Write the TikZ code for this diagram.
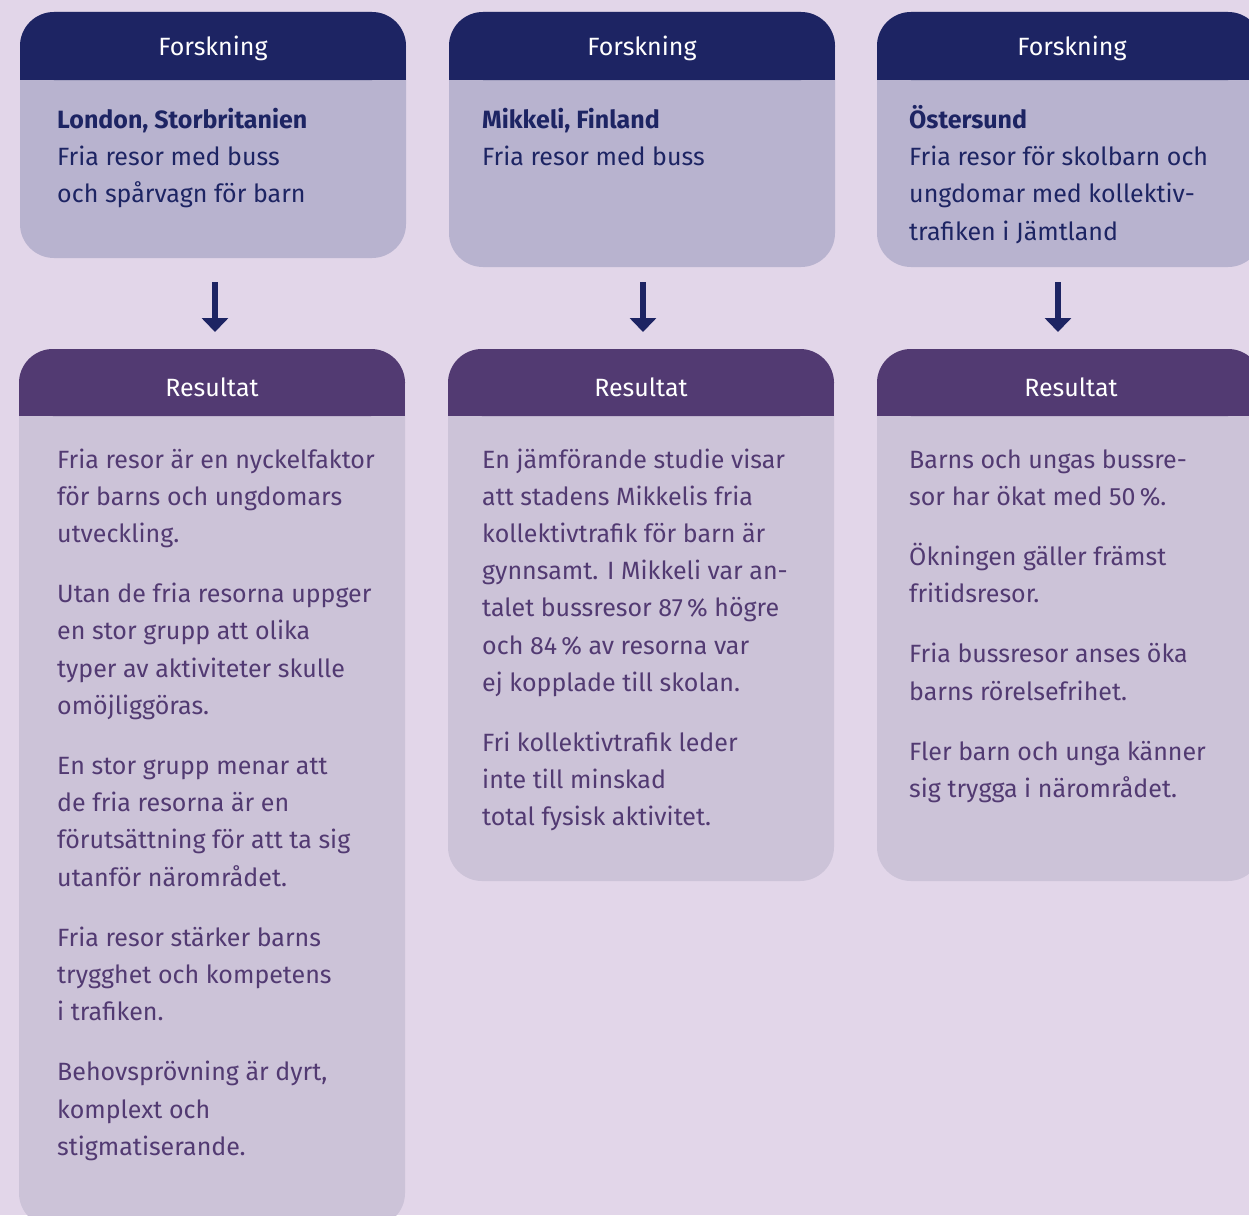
\documentclass[tikz,border=0pt]{standalone}
\usepackage{fontspec}
\setmainfont{Fira Sans}
\usetikzlibrary{arrows.meta}
\definecolor{bgc}{HTML}{E2D6E9}
\definecolor{navy}{HTML}{1D2463}
\definecolor{fbody}{HTML}{B8B3CF}
\definecolor{rhead}{HTML}{523A72}
\definecolor{rbody}{HTML}{CCC3D8}
\newcommand{\bodyfont}{\fontsize{25pt}{37.2pt}\selectfont}
\newcommand{\txtbox}[1]{\parbox[t]{370pt}{\raggedright\setlength{\parskip}{23pt}\bodyfont #1}}
\begin{document}
\begin{tikzpicture}[x=1pt,y=-1pt,
  headtxt/.style={anchor=base, text=white, font=\bodyfont, inner sep=0pt},
  bodytxt/.style={anchor=base west, inner sep=0pt, align=left},
  flowarrow/.style={draw=navy, line width=6.5pt, -{Triangle[width=26pt,length=14pt]}}]
\useasboundingbox (0,0) rectangle (1249,1215);
\clip (0,0) rectangle (1249,1215);
\fill[bgc] (0,0) rectangle (1249,1215);

% Forskning boxes
\foreach \nm/\xa/\xb/\yb in {f1/20/406/258, f2/449/835/267, f3/877/1262/267}{
  \fill[fbody, rounded corners=34pt] (\xa,12) rectangle (\xb,\yb);
  \fill[navy, rounded corners=34pt] (\xa,12) rectangle (\xb,80);
  \fill[navy] (\xa,50) rectangle (\xb,80);
}
% Resultat boxes
\foreach \nm/\xa/\xb/\yb in {r1/19/405/1227, r2/448/834/881, r3/877/1262/881}{
  \fill[rbody, rounded corners=34pt] (\xa,349) rectangle (\xb,\yb);
  \fill[rhead, rounded corners=34pt] (\xa,349) rectangle (\xb,416);
  \fill[rhead] (\xa,385) rectangle (\xb,416);
}

% headers
\node[headtxt] (fh1) at (213,56) {Forskning};
\node[headtxt] (fh2) at (642,56) {Forskning};
\node[headtxt] (fh3) at (1072,56) {Forskning};
\node[headtxt] (rh1) at (212,396) {Resultat};
\node[headtxt] (rh2) at (641,396) {Resultat};
\node[headtxt] (rh3) at (1071,396) {Resultat};

% Forskning texts
\node[bodytxt, text=navy] (ft1) at (57,128.5) {\txtbox{\textbf{London, Storbritanien}\\Fria resor med buss\\och spårvagn för barn}};
\node[bodytxt, text=navy] (ft2) at (482,128.5) {\txtbox{\textbf{Mikkeli, Finland}\\Fria resor med buss}};
\node[bodytxt, text=navy] (ft3) at (909,128.5) {\txtbox{\textbf{Östersund}\\Fria resor för skolbarn och\\ungdomar med kollektiv-\\trafiken i Jämtland}};

% Resultat texts
\node[bodytxt, text=rhead] (rt1) at (57,468) {\txtbox{%
Fria resor är en nyckelfaktor\\för barns och ungdomars\\utveckling.\par
Utan de fria resorna uppger\\en stor grupp att olika\\typer av aktiviteter skulle\\omöjliggöras.\par
En stor grupp menar att\\de fria resorna är en\\förutsättning för att ta sig\\utanför närområdet.\par
Fria resor stärker barns\\trygghet och kompetens\\i trafiken.\par
Behovsprövning är dyrt,\\komplext och\\stigmatiserande.}};
\node[bodytxt, text=rhead] (rt2) at (482,468) {\txtbox{%
En jämförande studie visar\\att stadens Mikkelis fria\\kollektivtrafik för barn är\\gynnsamt. I Mikkeli var an-\\talet bussresor 87\,\% högre\\och 84\,\% av resorna var\\ej kopplade till skolan.\par
Fri kollektivtrafik leder\\inte till minskad\\total fysisk aktivitet.}};
\node[bodytxt, text=rhead] (rt3) at (909,468) {\txtbox{%
Barns och ungas bussre-\\sor har ökat med 50\,\%.\par
Ökningen gäller främst\\fritidsresor.\par
Fria bussresor anses öka\\barns rörelsefrihet.\par
Fler barn och unga känner\\sig trygga i närområdet.}};

% arrows
\coordinate (a1s) at (215,282); \coordinate (a1e) at (215,332);
\coordinate (a2s) at (643,282); \coordinate (a2e) at (643,332);
\coordinate (a3s) at (1058,282); \coordinate (a3e) at (1058,332);
\draw[flowarrow] (a1s) -- (a1e);
\draw[flowarrow] (a2s) -- (a2e);
\draw[flowarrow] (a3s) -- (a3e);
\end{tikzpicture}
\end{document}
